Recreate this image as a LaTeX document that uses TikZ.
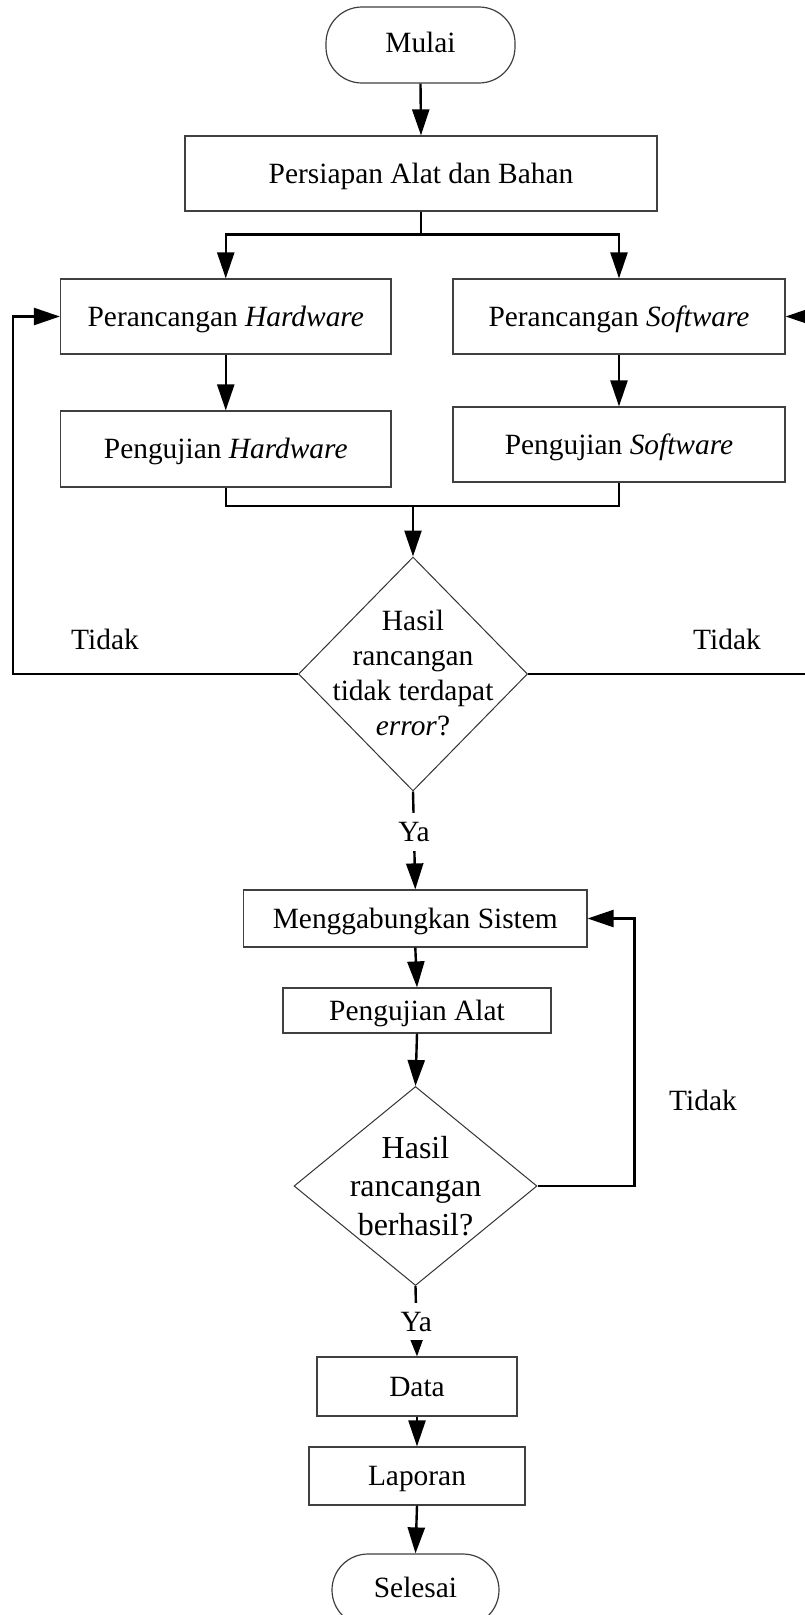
\documentclass[tikz,border=0pt]{standalone}
\usepackage{fontspec}
\setmainfont{Liberation Serif}
\usetikzlibrary{shapes.geometric,arrows.meta}
\begin{document}
\begin{tikzpicture}[x=1pt,y=-1pt,
  every node/.style={font=\fontsize{29.4}{35}\selectfont},
  box/.style={draw=black!75, line width=1.2pt, inner sep=0pt, text height=19.5pt, text depth=0pt},
  term/.style={box, rounded corners=36pt, text depth=4.6pt},
  decision/.style={diamond, draw=black!80, line width=1pt, inner sep=0pt},
  arr/.style={line width=2.4pt, -{Triangle[length=26pt,width=17pt]}},
  smallarr/.style={line width=2.4pt, -{Triangle[length=18pt,width=13pt]}},
  conn/.style={line width=2.4pt},
  lbl/.style={text height=19.5pt, text depth=0pt, inner sep=0pt},
]
\useasboundingbox (0,0) rectangle (804,1615);
\fill[white] (0,0) rectangle (804,1615);

% nodes
\node[term, minimum width=189pt, minimum height=76pt] (start) at (420.5,45) {Mulai};
\node[box, minimum width=472pt, minimum height=75pt] (prep) at (421,173.5) {Persiapan Alat dan Bahan};
\node[box, minimum width=330.5pt, minimum height=75pt] (phw) at (225.75,316.5) {Perancangan \textit{Hardware}};
\node[box, minimum width=332pt, minimum height=75pt] (psw) at (619,316.5) {Perancangan \textit{Software}};
\node[box, minimum width=330.5pt, minimum height=76pt] (uhw) at (225.75,449) {Pengujian \textit{Hardware}};
\node[box, minimum width=332pt, minimum height=75pt] (usw) at (619,444.5) {Pengujian \textit{Software}};
\node[decision, minimum width=229pt, minimum height=234pt] (d1) at (413,674) {};
\node[align=center, inner sep=0pt] (d1t) at (413,673) {Hasil\\rancangan\\tidak terdapat\\\textit{error}?};
\node[box, minimum width=343.4pt, minimum height=57pt] (merge) at (415.3,918.5) {Menggabungkan Sistem};
\node[box, minimum width=268pt, minimum height=45pt] (test) at (417,1010.5) {Pengujian Alat};
\node[decision, minimum width=243pt, minimum height=199pt] (d2) at (415.5,1186) {};
\node[align=center, inner sep=0pt, font=\fontsize{32}{38.5}\selectfont] (d2t) at (415.5,1186) {Hasil\\rancangan\\berhasil?};
\node[box, minimum width=200pt, minimum height=59pt] (data) at (417,1386.5) {Data};
\node[box, minimum width=216pt, minimum height=58pt] (rep) at (417,1476) {Laporan};
\node[term, minimum width=167pt, minimum height=72pt] (end) at (415.5,1590) {Selesai};

% labels
\node[lbl] (t1) at (105,640) {Tidak};
\node[lbl] (t2) at (727,640) {Tidak};
\node[lbl] (t3) at (703,1101) {Tidak};

% connectors
\draw[arr] (start.south) -- (prep.north);
\draw[conn] (prep.south) -- ++(0,23) coordinate (split);
\draw[arr] (split) -| (phw.north);
\draw[arr] (split) -| (psw.north);
\draw[arr] (phw.south) -- (uhw.north);
\draw[arr] (psw.south) -- (usw.north);
\coordinate (join) at (413,506);
\draw[conn] (uhw.south) |- (join);
\draw[conn] (usw.south) |- (join);
\draw[arr] (join) -- (d1.north);
\coordinate (lrail) at (13,674);
\draw[arr] (d1.west) -- (lrail) |- (phw.west);
\coordinate (rrail) at (812,674);
\draw[arr] (d1.east) -- (rrail) |- (psw.east);
\draw[arr] (d1.south) -- node[pos=0.414, lbl, fill=white, inner ysep=9pt] (ya1) {Ya} (merge.north);
\draw[arr] (merge.south) -- (test.north);
\draw[arr] (test.south) -- (d2.north);
\coordinate (rrail2) at (634.5,1186);
\draw[arr] (d2.east) -- (rrail2) |- (merge.east);
\draw[smallarr] (d2.south) -- node[pos=0.506, lbl, fill=white, inner ysep=8.75pt] (ya2) {Ya} (data.north);
\draw[arr] (data.south) -- (rep.north);
\draw[arr] (rep.south) -- (end.north);
\end{tikzpicture}
\end{document}
